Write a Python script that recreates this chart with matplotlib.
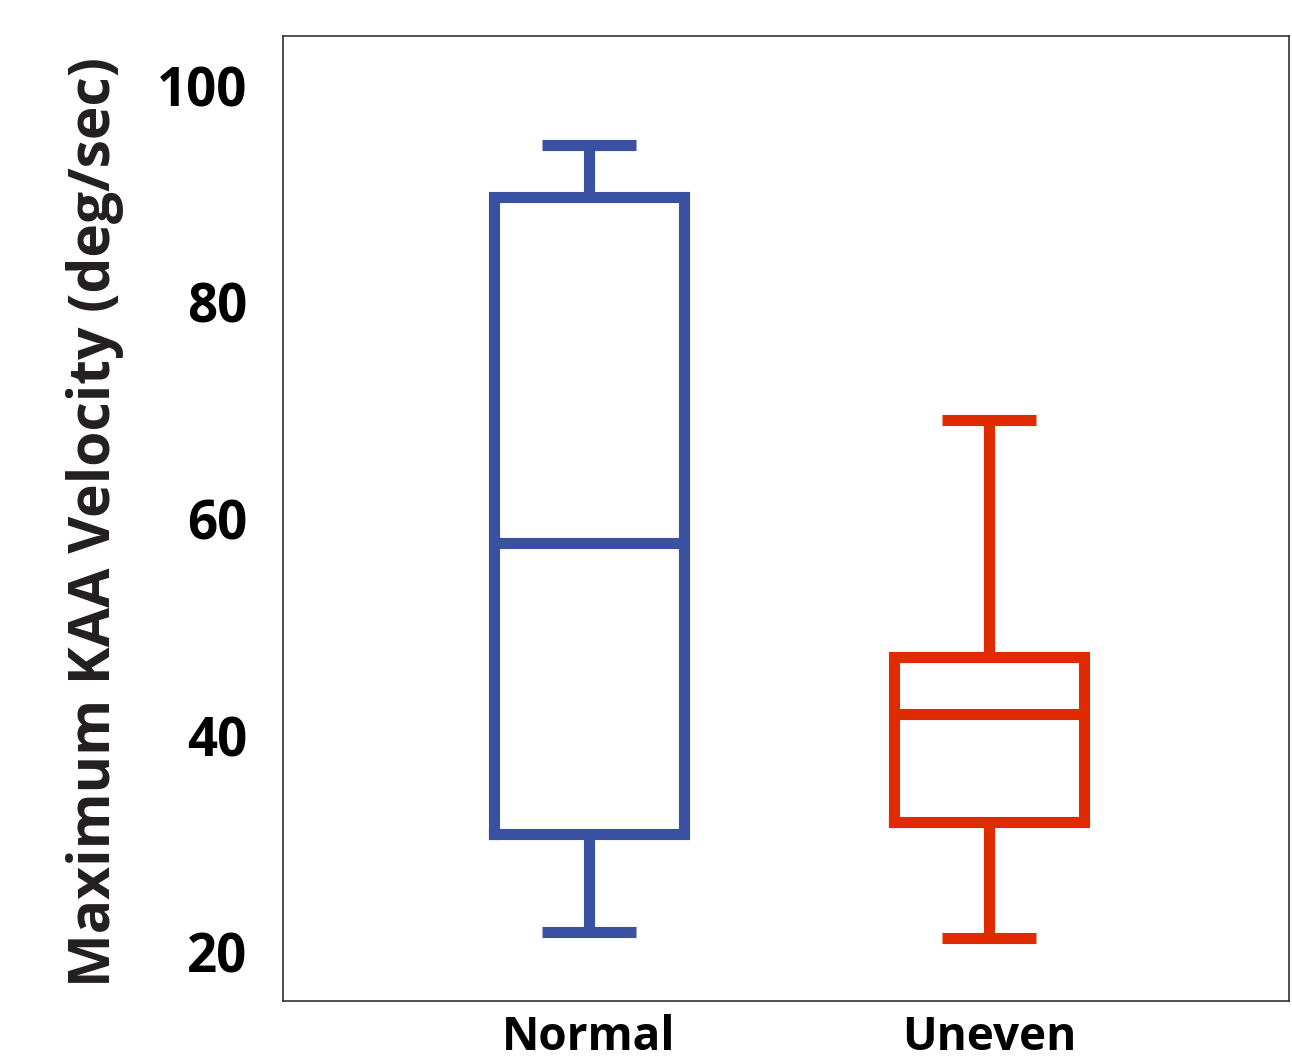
import matplotlib
matplotlib.use("Agg")
import matplotlib.pyplot as plt

categories = ["Normal", "Uneven"]
whislo = [21.9, 21.3]
q1 = [30.9, 32.0]
med = [57.8, 42.0]
q3 = [89.7, 47.3]
whishi = [94.5, 69.1]
colors = ["#3a50a0", "#e02a00"]
yticks = [20, 40, 60, 80, 100]

fig = plt.figure(figsize=(12.92, 10.59), dpi=100)
ax = fig.add_axes([283/1292, 1 - 1001/1059, (1289-283)/1292, (1001-36)/1059])

stats = [dict(label=c, whislo=a, q1=b, med=m, q3=d, whishi=e, fliers=[])
         for c, a, b, m, d, e in zip(categories, whislo, q1, med, q3, whishi)]
bp = ax.bxp(stats, positions=[1, 2], widths=0.475, capwidths=0.235,
            showfliers=False, patch_artist=False)
lw = 8.0
for i, col in enumerate(colors):
    bp['boxes'][i].set(color=col, linewidth=lw, solid_joinstyle='miter')
    bp['medians'][i].set(color=col, linewidth=lw, solid_capstyle='butt')
    for j in (2*i, 2*i+1):
        bp['whiskers'][j].set(color=col, linewidth=lw, solid_capstyle='butt')
        bp['caps'][j].set(color=col, linewidth=lw, solid_capstyle='butt')

ax.set_xlim(0.235, 2.75)
ax.set_ylim(15.5, 104.6)
ax.set_yticks(yticks)
ax.set_yticklabels([str(t) for t in yticks], fontfamily='Open Sans',
                   fontweight='bold', fontsize=38)
ax.set_xticks([1, 2])
ax.set_xticklabels(categories, fontfamily='Open Sans',
                   fontweight='bold', fontsize=33)
ax.tick_params(axis='y', length=0, pad=26)
ax.tick_params(axis='x', length=0, pad=9)
for s in ax.spines.values():
    s.set_linewidth(1.2)
    s.set_color('#333333')

fig.text(95/1292, 1 - 522/1059, "Maximum KAA Velocity (deg/sec)", rotation=90,
         ha='center', va='center', fontfamily='Open Sans', fontweight='bold',
         fontsize=41, color='#231f20')

fig.savefig("out.png", dpi=100)
